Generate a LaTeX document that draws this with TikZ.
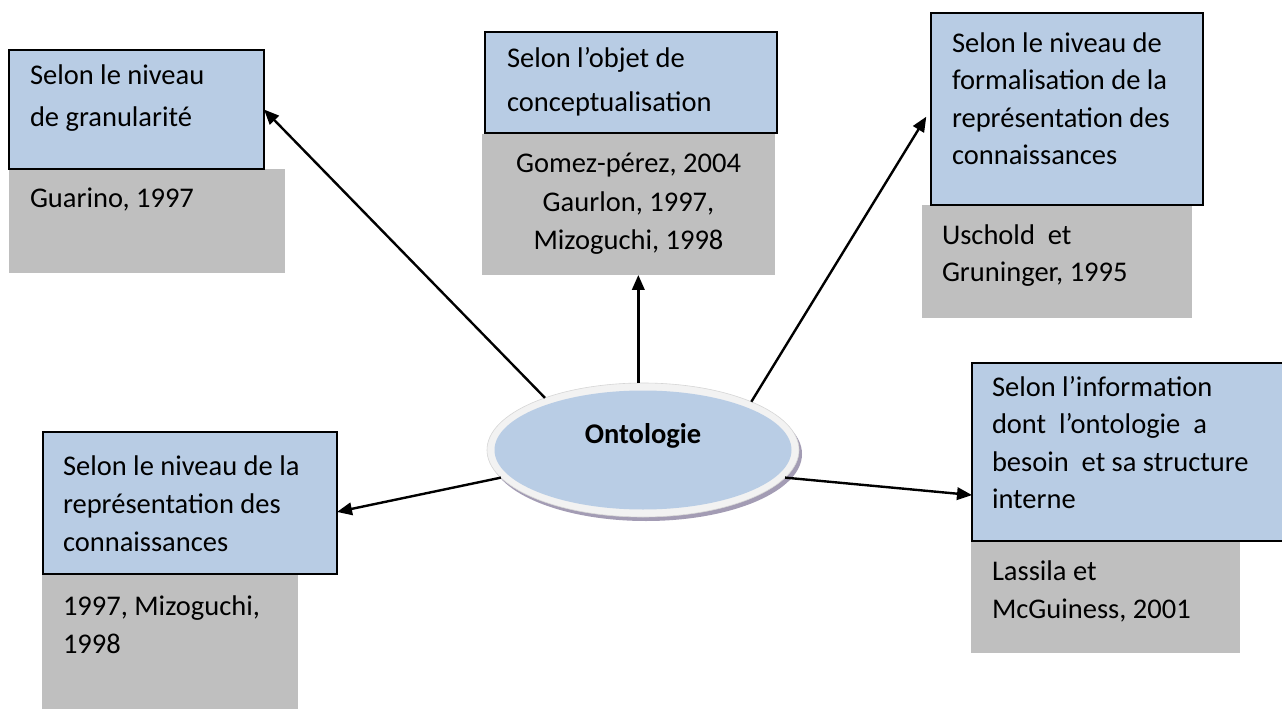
\documentclass[tikz,border=0pt]{standalone}
\usepackage{fontspec}
\setmainfont{Carlito}
\usetikzlibrary{shapes.geometric,arrows.meta,calc}
\definecolor{boxblue}{HTML}{B8CCE4}
\definecolor{refgray}{HTML}{BFBFBF}
\definecolor{rimgray}{HTML}{F2F2F2}
\definecolor{rimline}{HTML}{D6D6D6}
\definecolor{shade}{HTML}{A39CB4}
\definecolor{coreblue}{HTML}{B9CDE5}
% fixed height for the first line of each text block
\newcommand\lnup{\rule{0pt}{24pt}}

\begin{document}
\begin{tikzpicture}[x=1pt,y=-1pt,
  catbox/.style={draw=black, line width=2pt, fill=boxblue, anchor=north west, inner sep=0, outer sep=0},
  refbox/.style={fill=refgray, anchor=north west, inner sep=0, outer sep=0},
  txt/.style={anchor=north west, inner sep=0, outer sep=0, align=left, yshift=24pt, font=\fontsize{28.5}{38}\selectfont},
  ctxt/.style={txt, anchor=north, align=center},
  link/.style={line width=2.4pt, -{Triangle[length=15pt,width=12.5pt]}}]

\clip (0,0) rectangle (1282,711);
\fill[white] (0,0) rectangle (1282,711);

% granularity
\node[refbox, minimum width=276pt, minimum height=104pt] (g1) at (9,169) {};
\node[catbox, minimum width=255pt, minimum height=119pt] (b1) at (9,50) {};
\node[txt, font=\fontsize{28.5}{42}\selectfont] (t1) at (30,85) {\lnup Selon le niveau\\de granularité};
\node[txt] (r1) at (30,208) {\lnup Guarino, 1997};

% object of conceptualisation
\node[refbox, minimum width=293pt, minimum height=141pt] (g2) at (482,134) {};
\node[catbox, minimum width=292pt, minimum height=101pt] (b2) at (485,32) {};
\node[txt, font=\fontsize{28.5}{44}\selectfont] (t2) at (507,68) {\lnup Selon l’objet de\\conceptualisation};
\node[ctxt, font=\fontsize{28.5}{38.5}\selectfont] (r2) at (628.5,173) {\lnup Gomez-pérez, 2004\\Gaurlon, 1997,\\Mizoguchi, 1998};

% formalisation level
\node[refbox, minimum width=270pt, minimum height=113pt] (g3) at (922,205) {};
\node[catbox, minimum width=272pt, minimum height=192pt] (b3) at (931,13) {};
\node[txt, font=\fontsize{28.5}{37.5}\selectfont] (t3) at (952,52.5) {\lnup Selon le niveau de\\formalisation de la\\représentation des\\connaissances};
\node[txt, font=\fontsize{28.5}{37}\selectfont] (r3) at (942,245) {\lnup Uschold\ \ et\\Gruninger, 1995};

% representation level
\node[refbox, minimum width=256pt, minimum height=135pt] (g4) at (42,574) {};
\node[catbox, minimum width=294pt, minimum height=142pt] (b4) at (43,432) {};
\node[txt, font=\fontsize{28.5}{38.3}\selectfont] (t4) at (63,475) {\lnup Selon le niveau de la\\représentation des\\connaissances};
\node[txt] (r4) at (63,615) {\lnup 1997, Mizoguchi,\\1998};

% information and structure
\node[refbox, minimum width=269pt, minimum height=112pt] (g5) at (971,541) {};
\node[catbox, minimum width=330pt, minimum height=178pt] (b5) at (972,363) {};
\node[txt, font=\fontsize{28.5}{37.5}\selectfont] (t5) at (992,396) {\lnup Selon l’information\\dont\ \ l’ontologie\ \ a\\besoin\ \ et sa structure\\interne};
\node[txt] (r5) at (992,580) {\lnup Lassila et\\McGuiness, 2001};

% central ellipse
\node[ellipse, minimum width=312pt, minimum height=134pt, fill=rimgray, draw=rimline, line width=0.6pt,
      inner sep=0, outer sep=0,
      preaction={fill=shade, transform canvas={shift={(3pt,-4pt)}}}] (onto) at (643,450) {};
\fill[coreblue] (onto.center) ellipse [x radius=148.5, y radius=59.5];
\node[font=\fontsize{28.5}{34}\selectfont\bfseries, inner sep=0] (ontolbl) at (643,436) {Ontologie};

% connectors
\draw[link] (onto.152.5) -- (b1.east);
\draw[link] (onto.94) -- (onto.94 |- g2.south);
\draw[link, shorten >=9pt] (onto.24.6) -- (b3.west);
\draw[link] (onto.191) -- ($(b4.north east)!0.563!(b4.south east)$);
\draw[link] (onto.-11) -- ($(b5.north west)!0.742!(b5.south west)$);
\end{tikzpicture}
\end{document}
